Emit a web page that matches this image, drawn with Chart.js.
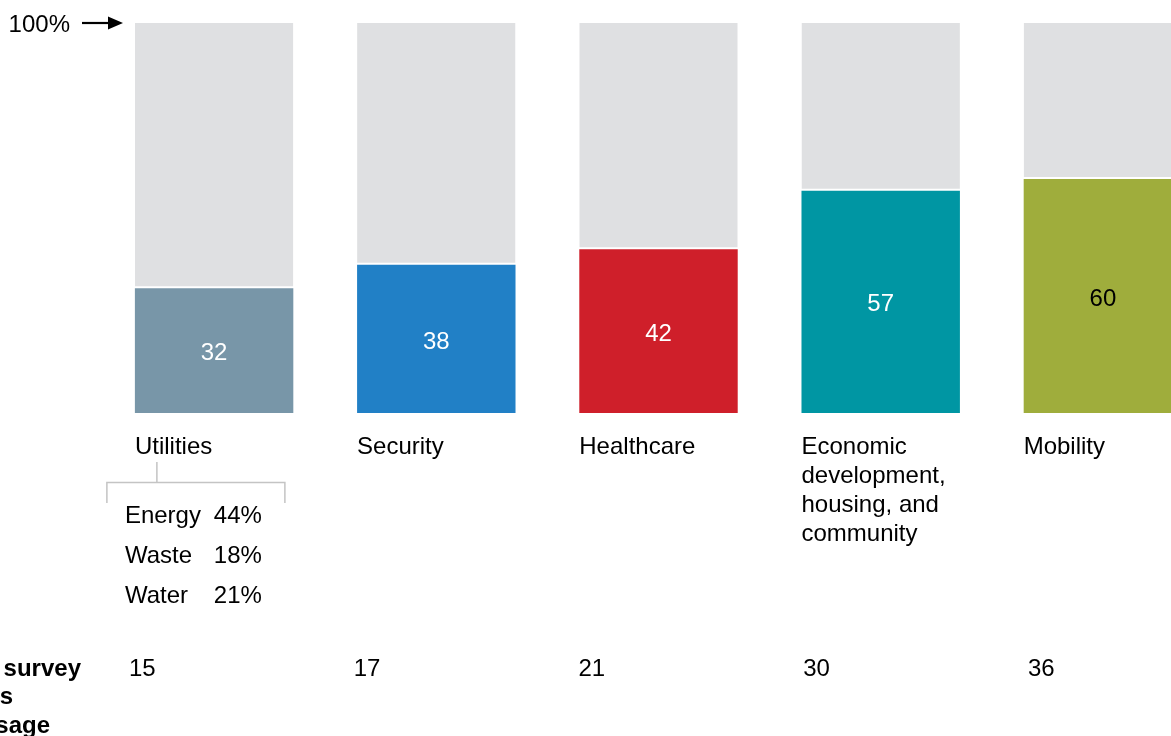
<!DOCTYPE html>
<html>
<head>
<meta charset="utf-8">
<script src="https://cdn.jsdelivr.net/npm/chart.js@4/dist/chart.umd.min.js"></script>
<style>
  html, body { margin: 0; padding: 0; background: #fff; overflow: hidden; }
  #wrap { position: relative; width: 1240px; height: 736px; }
</style>
</head>
<body>
<div id="wrap"><canvas id="c" width="1240" height="736"></canvas></div>
<script>
// ---- data ----
const categories = ["Utilities", "Security", "Healthcare", "Economic development, housing, and community", "Mobility"];
const categoryLines = [["Utilities"], ["Security"], ["Healthcare"], ["Economic", "development,", "housing, and", "community"], ["Mobility"]];
const shareValues = [32, 38, 42, 57, 60];
const surveyCounts = [15, 17, 21, 30, 36];
const utilitySubNames = ["Energy", "Waste", "Water"];
const utilitySubValues = ["44%", "18%", "21%"];
const rowTitleLines = ["Number of survey", "questions", "by usage"];
const topMarker = "100%";

const barColors = ["#7896a8", "#2180c6", "#cf1f2a", "#0096a3", "#9fad3c"];
const labelColors = ["#ffffff", "#ffffff", "#ffffff", "#ffffff", "#000000"];
const restValues = shareValues.map(v => 100 - v);

const FONT = "'Liberation Sans', Arial, sans-serif";
const DY = 2; // baseline nudge

const overlay = {
  id: 'overlay',
  afterDatasetsDraw(chart) {
    const ctx = chart.ctx;
    const meta = chart.getDatasetMeta(0);
    const y = chart.scales.y;
    ctx.save();
    ctx.font = "24px " + FONT;
    ctx.textBaseline = "middle";
    // values inside bars
    meta.data.forEach((bar, i) => {
      ctx.fillStyle = labelColors[i];
      ctx.textAlign = "center";
      const cy = (bar.y + bar.base) / 2;
      ctx.fillText(String(shareValues[i]), bar.x, cy + 1 + DY);
    });
    // category labels
    ctx.fillStyle = "#000";
    ctx.textAlign = "left";
    meta.data.forEach((bar, i) => {
      const left = bar.x - bar.width / 2;
      categoryLines[i].forEach((ln, k) => {
        ctx.fillText(ln, left, 445 + DY + k * 29);
      });
    });
    // 100% marker
    const top = y.getPixelForValue(100);
    ctx.textAlign = "right";
    ctx.fillText(topMarker, 70, top + DY);
    ctx.strokeStyle = "#000";
    ctx.lineWidth = 2.2;
    ctx.beginPath();
    ctx.moveTo(82, top);
    ctx.lineTo(110, top);
    ctx.stroke();
    ctx.fillStyle = "#000";
    ctx.beginPath();
    ctx.moveTo(123, top);
    ctx.lineTo(108, top - 6.5);
    ctx.lineTo(108, top + 6.5);
    ctx.closePath();
    ctx.fill();
    // utilities bracket
    const b0 = meta.data[0];
    const b0left = b0.x - b0.width / 2;
    ctx.strokeStyle = "#c4c4c4";
    ctx.lineWidth = 1.5;
    ctx.beginPath();
    ctx.moveTo(b0left + 22, 462);
    ctx.lineTo(b0left + 22, 482.5);
    ctx.moveTo(b0left - 28, 503);
    ctx.lineTo(b0left - 28, 482.5);
    ctx.lineTo(b0left + 150, 482.5);
    ctx.lineTo(b0left + 150, 503);
    ctx.stroke();
    ctx.fillStyle = "#000";
    utilitySubNames.forEach((n, k) => {
      ctx.textAlign = "left";
      ctx.fillText(n, b0left - 10, 514 + DY + k * 40);
      ctx.textAlign = "right";
      ctx.fillText(utilitySubValues[k], b0left + 127, 514 + DY + k * 40);
    });
    // survey count row
    ctx.textAlign = "left";
    surveyCounts.forEach((c, i) => {
      ctx.fillText(String(c), 129 + i * 224.75, 667 + DY);
    });
    // row title (cut off at left edge)
    ctx.font = "bold 24px " + FONT;
    ctx.textAlign = "right";
    const rights = [81, 13, 50];
    rowTitleLines.forEach((ln, k) => {
      ctx.fillText(ln, rights[k], 667 + DY + k * 28.5);
    });
    ctx.restore();
  }
};

new Chart(document.getElementById('c'), {
  type: 'bar',
  data: {
    labels: categories,
    datasets: [
      {
        data: shareValues,
        backgroundColor: barColors,
        borderWidth: 0,
        barPercentage: 0.713,
        categoryPercentage: 1
      },
      {
        data: restValues,
        backgroundColor: "#dfe0e2",
        borderColor: "#ffffff",
        borderWidth: { top: 0, left: 0, right: 0, bottom: 2 },
        borderSkipped: false,
        barPercentage: 0.713,
        categoryPercentage: 1
      }
    ]
  },
  options: {
    responsive: false,
    animation: false,
    devicePixelRatio: 1,
    layout: { padding: { left: 103, right: 26, top: 23, bottom: 323 } },
    plugins: { legend: { display: false }, tooltip: { enabled: false } },
    scales: {
      x: { stacked: true, display: false },
      y: { stacked: true, display: false, min: 0, max: 100 }
    }
  },
  plugins: [overlay]
});
</script>
</body>
</html>
